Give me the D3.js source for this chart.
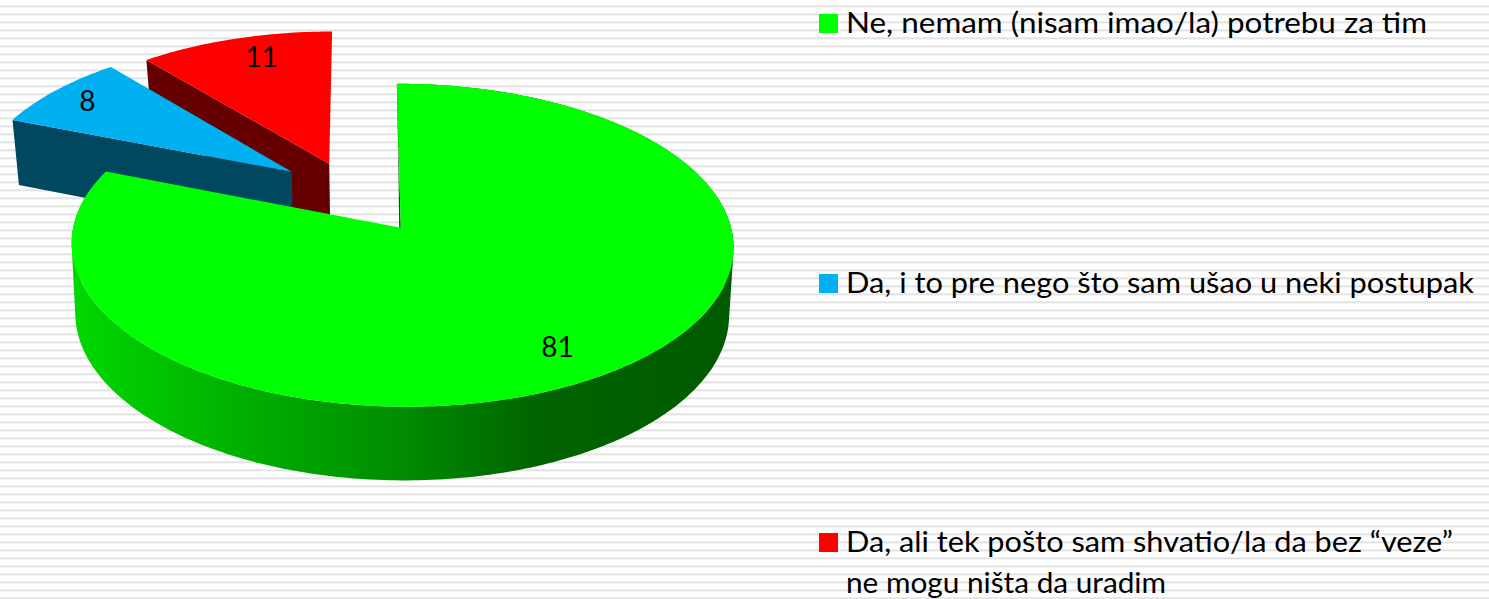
<!DOCTYPE html>
<html>
<head>
<meta charset="utf-8">
<script src="https://d3js.org/d3.v7.min.js"></script>
<style>
html, body { margin: 0; padding: 0; background: white; }
svg { display: block; }
text { font-family: Lato, sans-serif; fill: #000; }
</style>
</head>
<body>
<svg id="chart" width="1489" height="599"></svg>
<script>
const categories = ["Ne, nemam (nisam imao/la) potrebu za tim",
  "Da, i to pre nego što sam ušao u neki postupak",
  "Da, ali tek pošto sam shvatio/la da bez “veze” ne mogu ništa da uradim"];
const values = [81, 8, 11];
const colors = ["#00ff00", "#00b0f0", "#ff0000"];
const sideColors = ["#005f00", "#00475f", "#660000"];

// legend text, already broken into lines
const legendLines = [
  ["Ne, nemam (nisam imao/la) potrebu za tim"],
  ["Da, i to pre nego što sam ušao u neki postupak"],
  ["Da, ali tek pošto sam shvatio/la da bez “veze”", "ne mogu ništa da uradim"]
];
const legendWidths = [[581], [628], [607, 320]];
const legendTops = [14, 274, 533];

// how far each slice is pulled out, in units of the pie radius
const explode = [[0, 0], [-0.34, -0.365], [-0.222, -0.42]];
const labelRadius = [0.8, 0.88, 0.8];
const labelNudge = [[-6, 5], [5, 1], [9, -5]];

// top face and bottom face of the pie, both seen in perspective
const topFace = {x0: 400.8, y0: 227.8, a: 329, b: 159.6, k: 4.4, p: 0.108, q: 0.004};
const bottomFace = {x0: 400, y0: 296, a: 325, b: 164.5, k: 2, p: 0.108, q: 0.006};

function project(f, u, v) {
  const s = 1 / (1 - f.p * v - f.q * u);
  return [f.x0 + (f.a * u + f.k * v) * s, f.y0 + f.b * v * s];
}

const svg = d3.select("#chart");
const defs = svg.append("defs");

// striped background
const stripes = defs.append("pattern").attr("id", "stripes")
  .attr("patternUnits", "userSpaceOnUse").attr("width", 8).attr("height", 8);
stripes.append("rect").attr("width", 8).attr("height", 8).attr("fill", "#fff");
stripes.append("rect").attr("y", 5).attr("width", 8).attr("height", 1).attr("fill", "#ececec");
stripes.append("rect").attr("y", 6).attr("width", 8).attr("height", 1).attr("fill", "#e2e2e2");
stripes.append("rect").attr("y", 7).attr("width", 8).attr("height", 1).attr("fill", "#f5f5f5");
svg.append("rect").attr("width", 1489).attr("height", 599).attr("fill", "url(#stripes)");

// the big slice's outer wall gets lighter toward the left
const grad = defs.append("linearGradient").attr("id", "greenSide")
  .attr("gradientUnits", "userSpaceOnUse").attr("x1", 72).attr("x2", 733);
grad.selectAll("stop")
  .data([[0, "#00d800"], [0.2, "#00b800"], [0.5, "#008c00"], [0.7, "#006400"], [1, "#005a00"]])
  .join("stop")
  .attr("offset", d => d[0])
  .attr("stop-color", d => d[1]);

const pie = d3.pie().sort(null).value(d => d);
const arcs = pie(values);
const line = d3.line();

function rim(f, d, i) {
  const [eu, ev] = explode[i];
  const n = Math.ceil((d.endAngle - d.startAngle) * 60);
  return d3.range(n + 1).map(j => {
    const t = d.startAngle + (d.endAngle - d.startAngle) * j / n;
    return project(f, eu + Math.sin(t), ev - Math.cos(t));
  });
}
function apex(f, i) {
  return project(f, explode[i][0], explode[i][1]);
}

function drawSlice(i) {
  const d = arcs[i];
  const g = svg.append("g").attr("class", "slice");
  const topRim = rim(topFace, d, i);
  const botRim = rim(bottomFace, d, i);
  const at = apex(topFace, i), ab = apex(bottomFace, i);
  // only the start cut is turned toward the viewer
  g.append("path").attr("fill", sideColors[i])
    .attr("d", line([at, topRim[0], botRim[0], ab]) + "Z");
  // outer wall, one hull per step so the sides close up on the silhouette
  if (i === 0) {
    const strip = d3.range(topRim.length - 1).map(j =>
      line(d3.polygonHull([topRim[j], topRim[j + 1], botRim[j + 1], botRim[j]])) + "Z");
    g.append("path").attr("fill", "url(#greenSide)").attr("d", strip.join(""));
  }
  // top
  g.append("path").attr("fill", colors[i])
    .attr("d", line([at].concat(topRim)) + "Z");
}

// back slices first so the big one overlaps them
[2, 1, 0].forEach(drawSlice);

svg.append("g").selectAll("text")
  .data(arcs)
  .join("text")
  .attr("text-anchor", "middle")
  .attr("font-size", 28)
  .attr("transform", (d, i) => {
    const mid = (d.startAngle + d.endAngle) / 2;
    const p = project(topFace,
      explode[i][0] + labelRadius[i] * Math.sin(mid),
      explode[i][1] - labelRadius[i] * Math.cos(mid));
    return `translate(${p[0] + labelNudge[i][0]},${p[1] + 10 + labelNudge[i][1]})`;
  })
  .text(d => d.value);

// legend
const legend = svg.append("g").selectAll("g")
  .data(categories)
  .join("g")
  .attr("transform", (d, i) => `translate(819,${legendTops[i]})`);
legend.append("rect")
  .attr("width", 19).attr("height", 19)
  .attr("fill", (d, i) => colors[i]);
legend.each(function (d, i) {
  d3.select(this).selectAll("text")
    .data(legendLines[i])
    .join("text")
    .attr("x", 27)
    .attr("y", (t, j) => 19 + j * 41)
    .attr("font-size", 28)
    .attr("textLength", (t, j) => legendWidths[i][j])
    .attr("lengthAdjust", "spacingAndGlyphs")
    .text(t => t);
});
</script>
</body>
</html>
